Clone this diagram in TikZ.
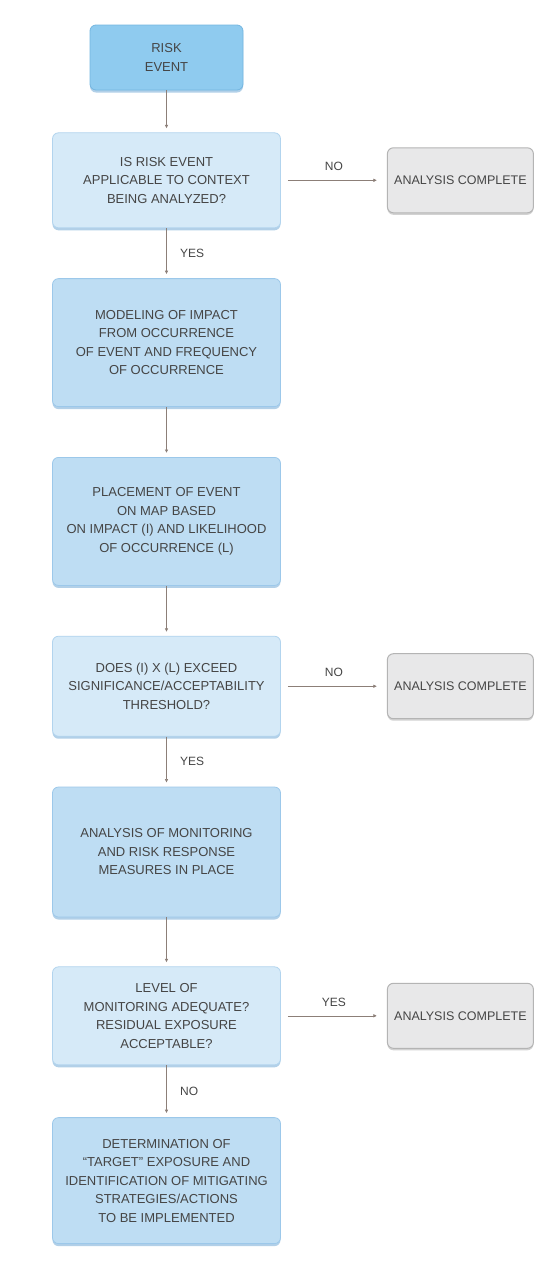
\documentclass[tikz,border=0pt]{standalone}
\usepackage{fontspec}
\setmainfont{Liberation Sans}
\usetikzlibrary{positioning, arrows.meta, shadows}
\definecolor{eFill}{HTML}{8FCBEF}
\definecolor{eDraw}{HTML}{74B6E0}
\definecolor{qFill}{HTML}{D6EAF8}
\definecolor{qDraw}{HTML}{B2D4EE}
\definecolor{pFill}{HTML}{BEDDF3}
\definecolor{pDraw}{HTML}{9CC8EA}
\definecolor{sFill}{HTML}{7FB2D9}
\definecolor{cFill}{HTML}{E8E8E9}
\definecolor{cDraw}{HTML}{B4B4B4}
\definecolor{lineColor}{HTML}{8C7F78}
\definecolor{txtColor}{HTML}{454545}
\tikzset{
    Box/.style = {
        rectangle, rounded corners=6pt, align=center, text=txtColor,
        font=\fontsize{13}{18.5}\selectfont,
        minimum width=228pt, line width=0.8pt,
        drop shadow={shadow xshift=0pt, shadow yshift=-2.5pt,
            fill=sFill, opacity=0.6}
    },
    EventBox/.style = {Box, fill=eFill, draw=eDraw, minimum width=153pt,
        minimum height=65pt},
    QBox/.style = {Box, fill=qFill, draw=qDraw},
    PBox/.style = {Box, fill=pFill, draw=pDraw},
    DoneBox/.style = {
        rectangle, rounded corners=6pt, align=center, text=txtColor,
        font=\fontsize{12.5}{15}\selectfont, fill=cFill, draw=cDraw,
        line width=1pt, minimum width=146pt, minimum height=65pt,
        drop shadow={shadow xshift=0pt, shadow yshift=-2pt,
            fill=cDraw, opacity=0.6}
    },
    Arrow/.style = {
        line width=0.6pt, color=lineColor,
        -{Latex[length=3.5pt, width=3.5pt]}, shorten >= 4pt
    },
    Lbl/.style = {text=txtColor, font=\fontsize{12}{14}\selectfont}
}

\begin{document}
\begin{tikzpicture}
    \useasboundingbox [fill=white] (0pt,0pt) rectangle (535pt,-1278pt);
    \node [EventBox] (E) at (166.5pt,-57.5pt) {RISK\\EVENT};
    \node [QBox, minimum height=95pt, below=42pt of E] (Q1)
        {IS RISK EVENT\\APPLICABLE TO CONTEXT\\BEING ANALYZED?};
    \node [PBox, minimum height=128pt, below=50pt of Q1] (P1)
        {MODELING OF IMPACT\\FROM OCCURRENCE\\OF EVENT AND FREQUENCY\\OF OCCURRENCE};
    \node [PBox, minimum height=128pt, below=50pt of P1] (P2)
        {PLACEMENT OF EVENT\\ON MAP BASED\\ON IMPACT (I) AND LIKELIHOOD\\OF OCCURRENCE (L)};
    \node [QBox, minimum height=100pt, below=50pt of P2] (Q2)
        {DOES (I) X (L) EXCEED\\SIGNIFICANCE/ACCEPTABILITY\\THRESHOLD?};
    \node [PBox, minimum height=130pt, below=50pt of Q2] (P3)
        {ANALYSIS OF MONITORING\\AND RISK RESPONSE\\MEASURES IN PLACE};
    \node [QBox, minimum height=98pt, below=49pt of P3] (Q3)
        {LEVEL OF\\MONITORING ADEQUATE?\\RESIDUAL EXPOSURE\\ACCEPTABLE?};
    \node [PBox, minimum height=126pt, below=52pt of Q3] (P4)
        {DETERMINATION OF\\``TARGET'' EXPOSURE AND\\IDENTIFICATION OF MITIGATING\\STRATEGIES/ACTIONS\\TO BE IMPLEMENTED};
    \node [DoneBox, right=106pt of Q1] (D1) {ANALYSIS COMPLETE};
    \node [DoneBox, right=106pt of Q2] (D2) {ANALYSIS COMPLETE};
    \node [DoneBox, right=106pt of Q3] (D3) {ANALYSIS COMPLETE};
    \draw [Arrow] (E) to (Q1);
    \draw [Arrow] (Q1) to node [Lbl, right=10pt] {YES} (P1);
    \draw [Arrow] (P1) to (P2);
    \draw [Arrow] (P2) to (Q2);
    \draw [Arrow] (Q2) to node [Lbl, right=10pt] {YES} (P3);
    \draw [Arrow] (P3) to (Q3);
    \draw [Arrow] (Q3) to node [Lbl, right=10pt] {NO} (P4);
    \draw [Arrow, shorten <= 7pt, shorten >= 10pt] (Q1) to node [Lbl, above=6pt] {NO} (D1);
    \draw [Arrow, shorten <= 7pt, shorten >= 10pt] (Q2) to node [Lbl, above=6pt] {NO} (D2);
    \draw [Arrow, shorten <= 7pt, shorten >= 10pt] (Q3) to node [Lbl, above=6pt] {YES} (D3);
\end{tikzpicture}
\end{document}
